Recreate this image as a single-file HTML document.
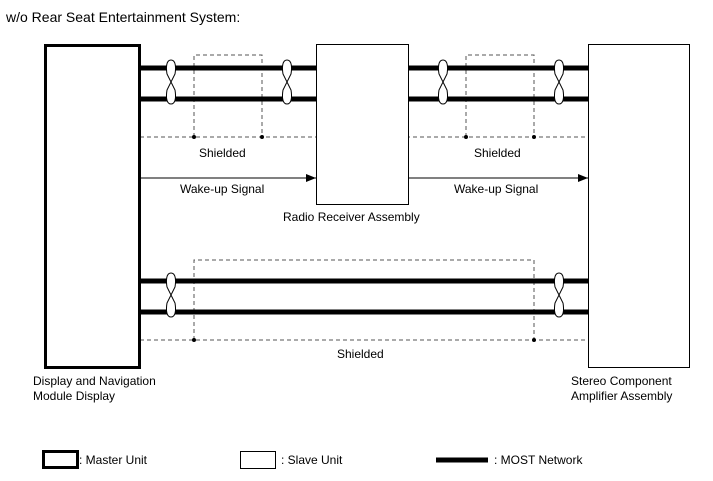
<!DOCTYPE html>
<html><head><style>body{margin:0;background:#fff}svg{display:block}text{font-family:"Liberation Sans",sans-serif;font-size:12px;fill:#000}</style></head><body>
<svg width="713" height="481" xmlns="http://www.w3.org/2000/svg">
<defs>
<g id="tw"><path d="M0,-16 C-5,-16 -5,-8 -4,-2 L4,14 C5,20 5,28 0,28 C-5,28 -5,20 -4,14 L4,-2 C5,-8 5,-16 0,-16Z" fill="#fff" stroke="#000" stroke-width="1"/></g>
<marker id="ar" markerWidth="10" markerHeight="8" refX="10" refY="4" orient="auto" markerUnits="userSpaceOnUse"><path d="M0,0 L10,4 L0,8Z" fill="#000"/></marker>
</defs>
<text x="6" y="22" font-size="14" style="font-size:14px">w/o Rear Seat Entertainment System:</text>
<g fill="none" stroke="#555" stroke-width="1" stroke-dasharray="4,3">
<path d="M140,137 H588"/><path d="M194,137 V55 H262 V137"/><path d="M466,137 V55 H534 V137"/>
<path d="M140,340 H588"/><path d="M194,340 V260 H534 V340"/>
</g>
<g fill="#000"><circle cx="194" cy="137" r="2"/><circle cx="262" cy="137" r="2"/><circle cx="466" cy="137" r="2"/><circle cx="534" cy="137" r="2"/><circle cx="194" cy="340" r="2"/><circle cx="534" cy="340" r="2"/></g>
<g stroke="#000" stroke-width="5"><path d="M140,68 H316 M140,99 H316 M409,68 H588 M409,99 H588 M140,281 H588 M140,312 H588"/></g>
<use href="#tw" x="171" y="76"/><use href="#tw" x="287" y="76"/><use href="#tw" x="443" y="76"/><use href="#tw" x="559" y="76"/>
<use href="#tw" x="171" y="289"/><use href="#tw" x="559" y="289"/>
<g stroke="#000" stroke-width="1"><path d="M140,178 H316" marker-end="url(#ar)"/><path d="M409,178 H588" marker-end="url(#ar)"/></g>
<rect x="45.5" y="45.5" width="94" height="322" fill="#fff" stroke="#000" stroke-width="3"/>
<rect x="316.5" y="44.5" width="92" height="160" fill="#fff" stroke="#000" stroke-width="1"/>
<rect x="588.5" y="44.5" width="101" height="323" fill="#fff" stroke="#000" stroke-width="1"/>
<text x="199" y="157">Shielded</text><text x="474" y="157">Shielded</text><text x="337" y="358">Shielded</text>
<text x="180" y="193">Wake-up Signal</text><text x="454" y="193">Wake-up Signal</text>
<text x="283" y="221">Radio Receiver Assembly</text>
<text x="33" y="385">Display and Navigation</text><text x="33" y="400">Module Display</text>
<text x="571" y="385">Stereo Component</text><text x="571" y="400">Amplifier Assembly</text>
<rect x="43.5" y="451.5" width="34" height="16" fill="#fff" stroke="#000" stroke-width="3"/>
<text x="79" y="464">: Master Unit</text>
<rect x="240.5" y="451.5" width="35" height="17" fill="#fff" stroke="#000" stroke-width="1"/>
<text x="281" y="464">: Slave Unit</text>
<path d="M436,460 H488" stroke="#000" stroke-width="5"/>
<text x="494" y="464">: MOST Network</text>
</svg>
</body></html>
